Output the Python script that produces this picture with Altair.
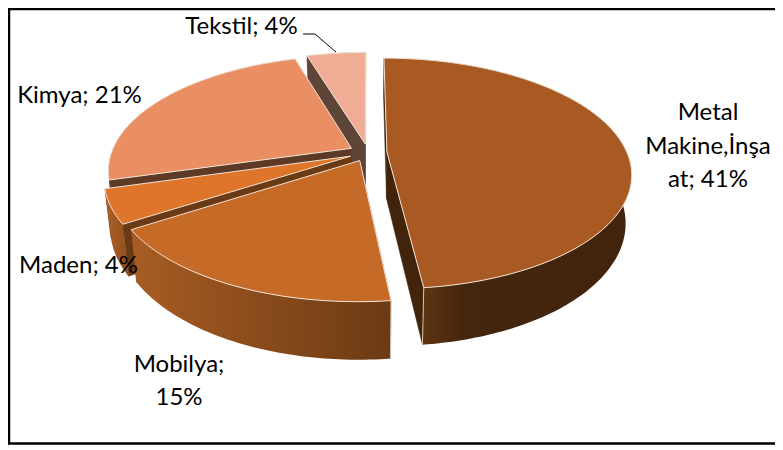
import math
import altair as alt

# ---- data ----
names = ["Metal Makine,İnşaat", "Mobilya", "Maden", "Kimya", "Tekstil"]
shares = [41, 15, 4, 21, 4]

# ---- styling ----
top_colors = ["#a95a22", "#c66a27", "#de752b", "#ea8f64", "#efad96"]
radial_colors = ["#42240c", "#6b3a14", "#6a3a15", "#5c3a26", "#5f4538"]
wall_stops = [
    [(0, "#5f3612"), (0.15, "#5f3612"), (0.32, "#44250d"), (1, "#42240c")],
    [(0, "#a85c23"), (1, "#6b3a14")],
    [(0, "#b0602a"), (1, "#8e4e1c")],
    [(0, "#5c3a26"), (1, "#5c3a26")],
    [(0, "#5f4538"), (1, "#5f4538")],
]
draw_order = [4, 3, 0, 2, 1]
edge = "#f3e3d6"

# ---- projection of the tilted pie (page pixels minus the 8px margin) ----
OX, OY = 368 - 8, 152.5 - 8
AX, BY = 240, 111.5
TILT = 0.186
EXPLODE = 0.079
DEPTH = 46.5
SHRINK = 0.977


def project(gx, gy):
    w = 1 + TILT * gy
    return OX + AX * gx / w, OY - BY * gy / w, w


def top_point(gx, gy):
    x, y, _ = project(gx, gy)
    return [x, y]


def bottom_point(gx, gy):
    x, y, w = project(gx, gy)
    return [OX + (x - OX) * SHRINK, y + DEPTH / w]


def polygon(points):
    ring = points + [points[0]]
    return {"type": "Feature", "properties": {},
            "geometry": {"type": "Polygon", "coordinates": [ring]}}


def line(points):
    return {"type": "Feature", "properties": {},
            "geometry": {"type": "LineString", "coordinates": points}}


PROJ = alt.Projection(type="identity", scale=1, translate=[0, 0])


def shape(feature, **mark):
    return (alt.Chart(alt.Data(values=[feature]))
            .mark_geoshape(**mark)
            .project(**PROJ.to_dict()))


layers = []
total = sum(shares)
spans = []
start = 0.0
for s in shares:
    end = start + 360 * s / total
    spans.append((start, end))
    start = end

for i in draw_order:
    a0, a1 = spans[i]
    mid = math.radians((a0 + a1) / 2)
    dx, dy = EXPLODE * math.sin(mid), EXPLODE * math.cos(mid)
    n = max(2, int(a1 - a0))
    rim = []
    for k in range(n + 1):
        t = math.radians(a0 + (a1 - a0) * k / n)
        rim.append((dx + math.sin(t), dy + math.cos(t)))
    apex = (dx, dy)

    for r in (rim[0], rim[-1]):
        layers.append(shape(polygon([top_point(*apex), top_point(*r),
                                     bottom_point(*r), bottom_point(*apex)]),
                            fill=radial_colors[i], stroke=radial_colors[i], strokeWidth=0.5))

    grad = alt.LinearGradient(
        gradient="linear", x1=0, x2=1, y1=0, y2=0,
        stops=[alt.GradientStop(offset=o, color=c) for o, c in wall_stops[i]])
    wall = [top_point(*p) for p in rim] + [bottom_point(*p) for p in reversed(rim)]
    layers.append(shape(polygon(wall), fill=grad, strokeWidth=0))

    if i in (0, 1):
        r_end = rim[-1] if i == 0 else rim[0]
        layers.append(shape(line([top_point(*r_end), bottom_point(*r_end)]),
                            filled=False, stroke=edge, strokeWidth=0.8))

    top = [top_point(*apex)] + [top_point(*p) for p in rim]
    layers.append(shape(polygon(top), fill=top_colors[i], stroke=edge, strokeWidth=1))

# leader line of the Tekstil label
layers.append(shape(line([[303 - 8, 34 - 8], [315 - 8, 34 - 8], [336 - 8, 52 - 8]]),
                    filled=False, stroke="#000000", strokeWidth=1))

# labels
label_rows = [
    ("Tekstil; 4%", 241.5, 27),
    ("Kimya; 21%", 79.5, 96),
    ("Metal", 708, 113),
    ("Makine,İnşa", 708, 147),
    ("at; 41%", 708, 180),
    ("Maden; 4%", 78.5, 266),
    ("Mobilya;", 179, 365),
    ("15%", 179, 398),
]
for text, x, y in label_rows:
    layers.append(
        alt.Chart(alt.Data(values=[{"t": text}]))
        .mark_text(font="Lato", fontSize=24, color="#000000", align="center", baseline="middle")
        .encode(text="t:N", x=alt.value(x - 8), y=alt.value(y - 8))
    )

# outer frame
layers.append(
    alt.Chart(alt.Data(values=[{"a": 1}]))
    .mark_rect(fillOpacity=0, stroke="#000000", strokeWidth=2.5)
    .encode(x=alt.value(1), x2=alt.value(800), y=alt.value(1), y2=alt.value(435.5))
)

chart = (alt.layer(*layers)
         .properties(width=767, height=438, padding=0,
                     autosize=alt.AutoSizeParams(type="none"))
         .configure_view(strokeWidth=0)
         .configure(background="#ffffff"))

chart.save("out.html", embed_options={"renderer": "svg", "actions": False})
